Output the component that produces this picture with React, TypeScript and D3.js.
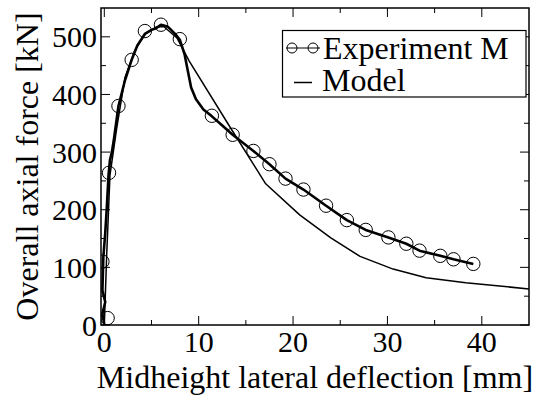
import React from "react";
import * as d3 from "d3";

// Experiment M curve (deflection mm, force kN)
const expDefl = [0.0, -0.2, 0.1, -0.2, -0.1, 0.1, 0.25, 0.45, 0.6, 0.8, 1.0, 1.5, 2.2, 2.9, 3.5, 4.3, 5.0, 5.5, 6.0, 6.7, 7.5, 8.0, 8.5, 8.8, 9.2, 9.7, 10.5, 11.4, 12.5, 13.6, 15.8, 17.5, 19.2, 21.1, 23.5, 25.7, 27.7, 30.1, 32.0, 33.4, 35.6, 37.0, 39.1];
const expForce = [0, 20, 40, 60, 118, 160, 200, 260, 286, 300, 320, 380, 425, 460, 485, 505, 512, 515, 521, 518, 505, 495, 470, 445, 412, 392, 374, 362, 346, 330, 302, 279, 254, 235, 207, 182, 165, 152, 141, 129, 120, 114, 106];

// Experiment M markers
const markDefl = [0.35, -0.2, 0.5, 1.5, 2.9, 4.3, 6.0, 8.0, 11.4, 13.6, 15.8, 17.5, 19.2, 21.1, 23.5, 25.7, 27.7, 30.1, 32.0, 33.4, 35.6, 37.0, 39.1];
const markForce = [12, 110, 264, 380, 460, 510, 521, 496, 363, 330, 302, 279, 254, 235, 207, 182, 165, 152, 141, 129, 120, 114, 106];

// Model curve
const modelDefl = [0, 0.25, 0.6, 1.3, 2.2, 3.2, 4.3, 5.5, 6.3, 7.7, 9.0, 13.3, 17.1, 20.7, 24.0, 27.1, 30.6, 34.1, 38.3, 45];
const modelForce = [0, 120, 260, 340, 430, 475, 505, 517, 518, 498, 458, 344, 245, 191, 151, 119, 97, 82, 73.5, 62.5];

const xTicks = [0, 10, 20, 30, 40];
const xMinor = [5, 15, 25, 35, 45];
const yTicks = [0, 100, 200, 300, 400, 500];
const yMinor = [50, 150, 250, 350, 450];

const xTitle = "Midheight lateral deflection [mm]";
const yTitle = "Overall axial force [kN]";
const legendLabels = ["Experiment M", "Model"];

const W = 541;
const H = 398;
const L = 101, R = 529, T = 8, B = 325;
const FONT = '"Liberation Serif", "DejaVu Serif", serif';

export default function App() {
  const x = d3.scaleLinear().domain([-0.35, 45]).range([L, R]);
  const y = d3.scaleLinear().domain([0, 550]).range([B, T]);

  const expData = expDefl.map((d, i) => [d, expForce[i]] as [number, number]);
  const modelData = modelDefl.map((d, i) => [d, modelForce[i]] as [number, number]);
  const line = d3.line<[number, number]>().x((d) => x(d[0])).y((d) => y(d[1]));

  const major = 9;
  const minor = 5;

  return (
    <div style={{ position: "absolute", left: 0, top: 0, width: W, height: H, fontFamily: FONT }}>
      <style>{`svg text { font-family: "Liberation Serif", "DejaVu Serif", serif; }`}</style>
      <svg width={W} height={H} style={{ display: "block", background: "#fff" }}>
        <defs>
          <clipPath id="plot">
            <rect x={L} y={T} width={R - L} height={B - T} />
          </clipPath>
        </defs>
        <rect x={0} y={0} width={W} height={H} fill="#fff" />
        <g clipPath="url(#plot)">
          <path d={line(modelData) || ""} fill="none" stroke="#000" strokeWidth={1.5} strokeLinejoin="round" />
          <path d={line(expData) || ""} fill="none" stroke="#000" strokeWidth={2.6} strokeLinejoin="round" />
          {markDefl.map((d, i) => (
            <circle key={i} cx={x(d)} cy={y(markForce[i])} r={6.7} fill="none" stroke="#000" strokeWidth={1} />
          ))}
        </g>
        <rect x={L} y={T} width={R - L} height={B - T} fill="none" stroke="#000" strokeWidth={1.5} />
        {xTicks.map((t) => (
          <g key={"xt" + t}>
            <line x1={x(t)} x2={x(t)} y1={B} y2={B - major} stroke="#000" strokeWidth={1} />
            <line x1={x(t)} x2={x(t)} y1={T} y2={T + major} stroke="#000" strokeWidth={1} />
            <text x={x(t)} y={352} fontSize={30} textAnchor="middle">{t}</text>
          </g>
        ))}
        {xMinor.filter((t) => x(t) < R - 1).map((t) => (
          <g key={"xm" + t}>
            <line x1={x(t)} x2={x(t)} y1={B} y2={B - minor} stroke="#000" strokeWidth={1} />
            <line x1={x(t)} x2={x(t)} y1={T} y2={T + minor} stroke="#000" strokeWidth={1} />
          </g>
        ))}
        {yTicks.map((t) => (
          <g key={"yt" + t}>
            <line x1={L} x2={L + major} y1={y(t)} y2={y(t)} stroke="#000" strokeWidth={1} />
            <line x1={R} x2={R - major} y1={y(t)} y2={y(t)} stroke="#000" strokeWidth={1} />
            <text x={97} y={y(t) + 10.5} fontSize={30} textAnchor="end">{t}</text>
          </g>
        ))}
        {yMinor.map((t) => (
          <g key={"ym" + t}>
            <line x1={L} x2={L + minor} y1={y(t)} y2={y(t)} stroke="#000" strokeWidth={1} />
            <line x1={R} x2={R - minor} y1={y(t)} y2={y(t)} stroke="#000" strokeWidth={1} />
          </g>
        ))}
        <text x={(L + R) / 2} y={388} fontSize={32} textAnchor="middle">{xTitle}</text>
        <text transform={`translate(38, ${(T + B) / 2}) rotate(-90)`} fontSize={32} textAnchor="middle">{yTitle}</text>
        <g>
          <rect x={282.5} y={30.5} width={243.5} height={66.5} fill="#fff" stroke="#000" strokeWidth={1.2} />
          <line x1={286} x2={320} y1={48} y2={48} stroke="#000" strokeWidth={1} />
          <circle cx={292} cy={48} r={5} fill="none" stroke="#000" strokeWidth={1} />
          <circle cx={313} cy={48} r={5} fill="none" stroke="#000" strokeWidth={1} />
          <text x={323} y={59} fontSize={32}>{legendLabels[0]}</text>
          <line x1={294} x2={312} y1={82.5} y2={82.5} stroke="#000" strokeWidth={1.5} />
          <text x={322} y={90.5} fontSize={32}>{legendLabels[1]}</text>
        </g>
      </svg>
    </div>
  );
}
